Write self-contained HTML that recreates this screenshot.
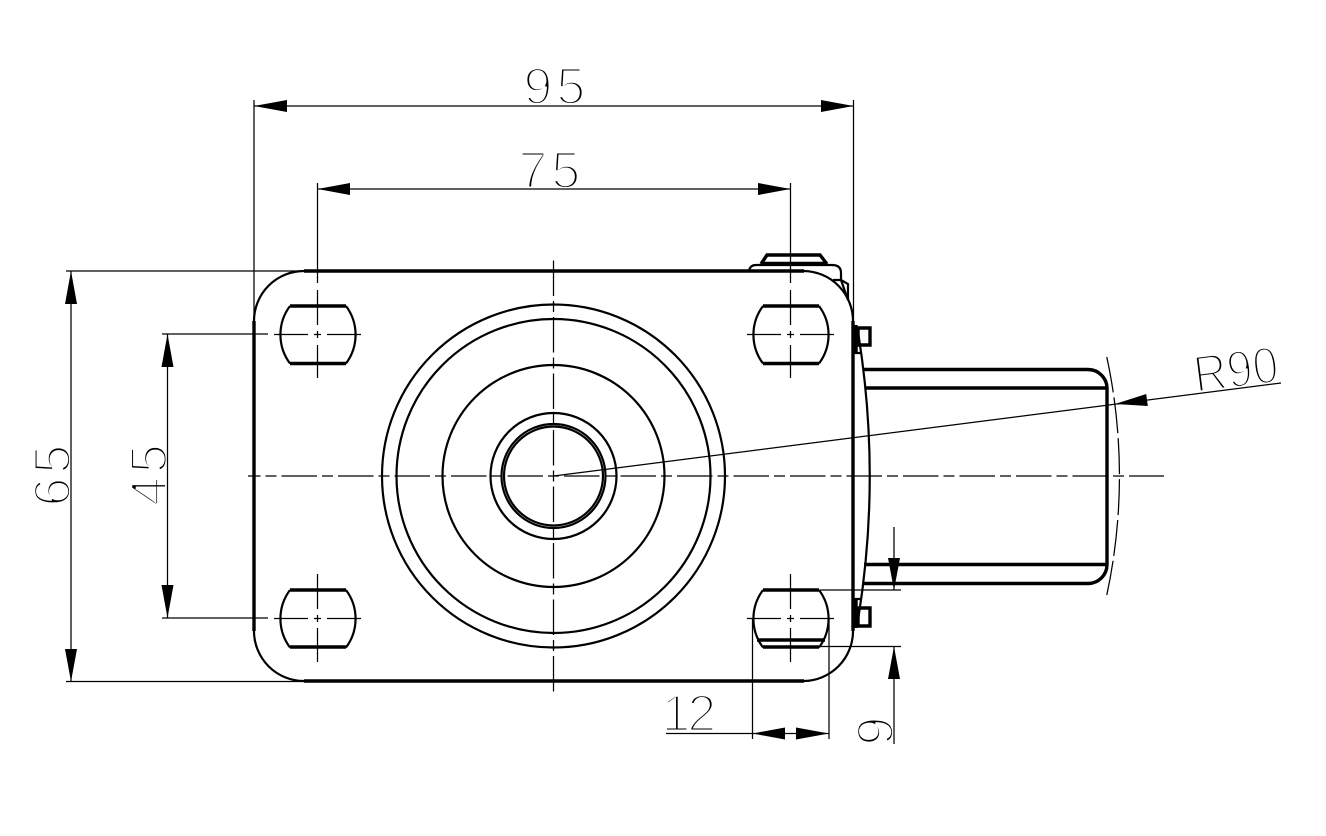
<!DOCTYPE html>
<html><head><meta charset="utf-8"><style>
html,body{margin:0;padding:0;background:#fff}
svg{display:block}
text{font-family:"Liberation Sans",sans-serif;font-size:52px;letter-spacing:4px;fill:#000;stroke:#fff;stroke-width:2.9px}
.t{fill:none;stroke:#000;stroke-width:1.25}
.m{fill:none;stroke:#000;stroke-width:2.2}
.k{fill:none;stroke:#000;stroke-width:3.4}
.a{fill:#000;stroke:none}
</style></head><body>
<svg width="1326" height="836" viewBox="0 0 1326 836" xmlns="http://www.w3.org/2000/svg">
<rect width="1326" height="836" fill="#fff"/>
<text x="523.5" y="104">95</text>
<text x="518.5" y="188">75</text>
<text transform="translate(70,506.5) rotate(-90)">65</text>
<text transform="translate(166.5,506) rotate(-90)">45</text>
<text x="661.5" y="731" style="letter-spacing:-3px">12</text>
<text transform="translate(893,745.5) rotate(-90)">9</text>
<text transform="translate(1196,392.5) rotate(-7.3)" textLength="85" lengthAdjust="spacingAndGlyphs" style="letter-spacing:0">R90</text>

<!-- plate -->
<path class="m" d="M254 321A50 50 0 0 1 304 271M804 271A50 50 0 0 1 853 321M853 631A50 50 0 0 1 804 681M304 681A50 50 0 0 1 254 631"/>
<path class="k" d="M304 271H804M304 681H804M254 321V631M853 321V631"/>

<!-- circles -->
<g class="m">
<circle cx="553.5" cy="476" r="171.5"/>
<circle cx="553.5" cy="476" r="157"/>
<circle cx="553.5" cy="476" r="111"/>
<circle cx="553.5" cy="476" r="63"/>
<circle cx="553.5" cy="476" r="52"/>
<circle cx="553.5" cy="476" r="49.5"/>
</g>

<!-- slots -->
<g class="m">
<path d="M290 306A48 48 0 0 0 290 363.5M346 306A48 48 0 0 1 346 363.5"/>
<path d="M763 306A48 48 0 0 0 763 363.5M819 306A48 48 0 0 1 819 363.5"/>
<path d="M290 590A48 48 0 0 0 290 647.5M346 590A48 48 0 0 1 346 647.5"/>
<path d="M763 590A48 48 0 0 0 763 647.5M819 590A48 48 0 0 1 819 647.5"/>
</g>
<path class="k" d="M290 306H346M290 363.5H346M763 306H819M763 363.5H819M290 590H346M290 647H346M763 590H819M763 647H819M757 640H825"/>

<!-- bracket at top -->
<path class="m" d="M749 271Q750 265 756 265H832Q841 265 841 273V280L848 284V300M833 280H841M841 280L848 300"/>
<path class="k" d="M761 264L767 255H820L827 264M761 263.5H827"/>

<!-- side tabs, wheel arc -->
<path class="k" d="M858 328H870V345H858ZM858 608H870V626H858Z"/>
<path class="m" d="M853 353H862M853 599H862"/>
<path class="k" d="M856 325V353M856 600V628"/>
<path class="m" d="M858.5 335Q881 476 858.5 617"/>

<!-- stem -->
<path class="k" d="M864 369.5H1088A19 19 0 0 1 1107 388.5V564.5A19 19 0 0 1 1088 583.5H864M866 388H1107M864 564.5H1107M1107 388V565"/>

<!-- centre lines -->
<g class="t" stroke-dasharray="11 5 35.5 5" stroke-dashoffset="5.5">
<line x1="553.5" y1="476" x2="1164" y2="476"/>
<line x1="553.5" y1="476" x2="248" y2="476"/>
<line x1="553.5" y1="476" x2="553.5" y2="258"/>
<line x1="553.5" y1="476" x2="553.5" y2="695"/>
</g>
<!-- slot centre marks -->
<path class="t" d="M274 334.5H308M314 334.5H321M327 334.5H361M317.5 331V338M317.5 345V378M317.5 290V325
M747 334.5H781M787 334.5H794M800 334.5H834M790.5 331V338M790.5 345V378M790.5 290V325
M274 618.5H308M314 618.5H321M327 618.5H361M317.5 615V622M317.5 628V662M317.5 574V609
M747 618.5H781M787 618.5H794M800 618.5H834M790.5 615V622M790.5 628V662M790.5 574V609"/>

<!-- dashed radius arc -->
<path class="t" stroke-dasharray="36 5" d="M1106.8 357A566 566 0 0 1 1106.8 595"/>

<!-- dimensions -->
<path class="t" d="M254 100V321M853.5 100V321M254 106H853.5
M317.5 183V283M790.5 183V283M317.5 189H790.5
M66 271H305M66 681.5H305M71 271V681.5
M162 334H268M162 618H268M167.5 334V618
M666 733.5H829M752.5 618V739M829 618V739
M894 527V590M894 646.5V744M820 590H901M821 646.5H901
M553.5 476L1281 383"/>
<g class="a">
<path d="M254 106L287 100V112ZM853.5 106L821 100V112Z"/>
<path d="M317.5 189L350 183V195ZM790.5 189L758 183V195Z"/>
<path d="M71 271L65 304H77ZM71 681.5L65 649H77Z"/>
<path d="M167.5 334L161.5 367H173.5ZM167.5 618L161.5 585H173.5Z"/>
<path d="M752.5 733.5L785 727.5V739.5ZM829 733.5L796 727.5V739.5Z"/>
<path d="M894 590L888 558H900ZM894 646.5L888 679H900Z"/>
<path d="M1115 404L1146.2 394L1147.8 406Z"/>
</g>
</svg>
</body></html>
